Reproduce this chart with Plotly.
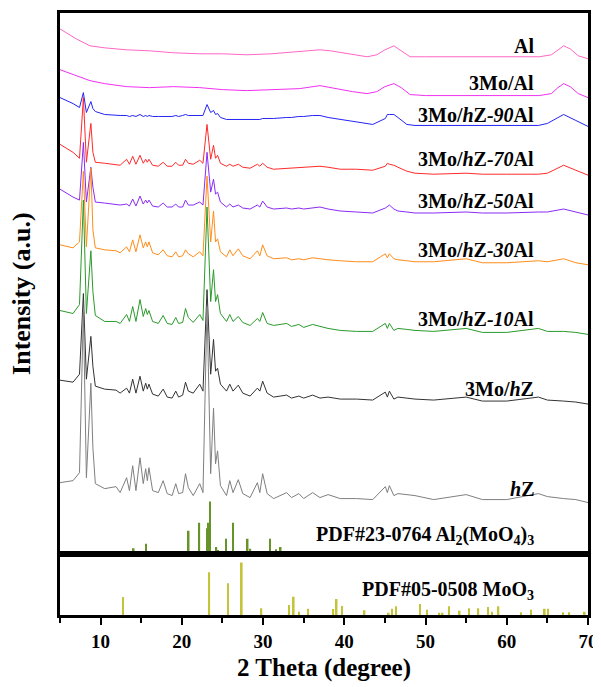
import plotly.graph_objects as go

# ---------------- data (2-theta in degrees, intensity in a.u.) ----------------
# knots of the zeolite-containing patterns
theta_z = [5.0, 6.6, 7.4, 7.88, 8.25, 8.8, 9.05, 9.35, 10.5, 11.9, 12.4, 13.2, 13.55, 13.95, 14.35,
           14.85, 15.25, 15.55, 15.75, 15.95, 16.4, 17.1, 17.7, 18.2, 18.8, 19.25, 19.6, 20.1, 20.45,
           20.8, 21.4, 22.2, 22.6, 23.1, 23.55, 23.9, 24.15, 24.4, 24.75, 25.5, 25.9, 26.3, 26.95,
           27.5, 28.4, 29.3, 29.6, 29.95, 30.5, 31.3, 32.9, 33.5, 34.4, 35.0, 36.1, 37.0, 38.0, 39.5,
           41.5, 43.5, 45.05, 45.3, 45.55, 46.1, 46.6, 47.7, 48.7, 51.0, 55.0, 57.0, 60.0, 63.9, 65.0,
           67.0, 68.5, 70.0]

hz = [72, 74, 82, 244, 77, 172, 107, 71, 66, 68, 62, 77, 64, 89, 64,
      97, 71, 86, 74, 87, 64, 62, 74, 61, 59, 71, 61, 62, 81,
      67, 59, 71, 62, 249, 81, 147, 91, 104, 69, 59, 74, 62, 75,
      61, 57, 72, 62, 81, 61, 56, 62, 57, 61, 56, 62, 57, 60, 56,
      56, 55, 68, 62, 69, 59, 61, 60, 59, 55, 60, 55, 55, 61, 58,
      56, 55, 52]

mo_hz = [175, 173, 181, 262, 176, 219, 189, 169, 166, 165, 162, 167, 162, 176, 162,
         179, 164, 172, 166, 171, 161, 159, 166, 158, 157, 164, 158, 160, 173,
         164, 162, 171, 164, 266, 181, 216, 184, 187, 171, 164, 171, 164, 170,
         162, 159, 167, 164, 174, 162, 158, 160, 157, 159, 157, 160, 157, 158, 156,
         156, 155, 163, 158, 164, 156, 158, 157, 156, 155, 158, 154, 154, 158, 155,
         154, 153, 151]

mo_hz_10al = [245, 242, 251, 356, 242, 305, 264, 240, 234, 234, 232, 241, 234, 249, 234,
              256, 239, 247, 241, 245, 234, 232, 240, 232, 231, 238, 232, 233, 247,
              238, 233, 241, 235, 349, 254, 286, 254, 261, 242, 234, 241, 234, 239,
              233, 230, 237, 234, 243, 232, 230, 232, 229, 231, 228, 231, 229, 227, 225,
              224, 224, 232, 227, 232, 225, 227, 226, 225, 224, 227, 223, 223, 227, 224,
              224, 223, 221]

mo_hz_30al = [311, 308, 314, 385, 309, 388, 326, 308, 306, 305, 303, 309, 304, 316, 304,
              321, 308, 314, 309, 314, 303, 301, 306, 300, 299, 304, 299, 300, 306,
              302, 299, 304, 300, 380, 314, 345, 314, 317, 304, 299, 306, 300, 307,
              300, 297, 305, 300, 311, 300, 297, 298, 296, 297, 296, 298, 297, 296, 295,
              294, 294, 302, 298, 302, 297, 296, 295, 294, 294, 297, 293, 293, 295, 294,
              297, 293, 291]

mo_hz_50al = [367, 359, 356, 414, 354, 389, 369, 354, 353, 352, 351, 352, 350, 357, 350,
              360, 352, 356, 353, 356, 350, 349, 353, 349, 349, 352, 349, 349, 356,
              351, 351, 354, 351, 404, 364, 377, 362, 364, 354, 349, 352, 349, 351,
              348, 347, 351, 349, 355, 349, 347, 348, 347, 348, 347, 348, 349, 347, 345,
              344, 343, 348, 350, 351, 347, 345, 344, 343, 343, 344, 343, 343, 344, 344,
              347, 344, 341]

mo_hz_70al = [412, 404, 398, 459, 394, 433, 404, 394, 393, 392, 391, 397, 392, 400, 392,
              401, 393, 397, 394, 397, 391, 390, 394, 390, 390, 394, 391, 391, 397,
              393, 392, 396, 393, 432, 397, 411, 398, 401, 393, 390, 392, 390, 392,
              389, 388, 392, 390, 393, 389, 387, 388, 388, 389, 389, 390, 390, 389, 387,
              387, 386, 390, 393, 392, 391, 389, 385, 383, 382, 383, 382, 382, 382, 383,
              391, 386, 381]

mo_hz_90al = [459, 453, 449, 464, 444, 455, 448, 445, 442, 441, 441, 441, 440, 441, 440,
              442, 440, 441, 440, 441, 440, 440, 440, 440, 440, 441, 440, 441, 442,
              441, 441, 441, 441, 452, 444, 446, 442, 443, 439, 437, 437, 437, 437,
              437, 437, 437, 437, 438, 438, 438, 439, 439, 440, 440, 441, 441, 439, 437,
              434, 432, 438, 442, 442, 442, 439, 432, 431, 431, 431, 431, 431, 431, 433,
              442, 436, 430]

# knots of the alumina patterns
theta_al = [5.0, 6.0, 7.0, 8.7, 10.5, 13.2, 16.0, 19.0, 22.2, 25.0, 28.0, 31.0, 34.5, 37.0, 38.3,
            39.7, 41.0, 42.8, 44.0, 45.0, 46.1, 47.0, 48.1, 50.0, 55.0, 60.0, 64.0, 65.5, 66.3,
            67.0, 67.8, 68.8, 70.0]
al = [528, 523, 518, 511, 509, 507, 506, 504, 503, 503, 502, 503, 505, 507, 506,
      504, 502, 500, 502, 507, 511, 506, 500, 500, 500, 500, 500, 502, 507,
      511, 508, 501, 498]
mo_al = [487, 484, 481, 476, 473, 470, 469, 470, 469, 467, 466, 467, 468, 471, 469,
         467, 465, 463, 465, 470, 473, 469, 462, 461, 461, 461, 461, 463, 469,
         473, 470, 463, 459]

# reference cards (stick positions / heights)
pdf_al2moo43_pos = [14.07, 15.59, 20.84, 22.15, 23.18, 23.30, 23.47, 24.25, 24.45, 25.44, 26.30,
                    28.10, 28.43, 29.00, 29.13, 30.85, 31.59, 32.17]
pdf_al2moo43_int = [6, 10.7, 23.7, 31.7, 26.3, 31.7, 53, 7.3, 4.3, 15.7, 31.7,
                    15.7, 5.7, 3, 3, 15.7, 5, 7.3]
pdf_moo3_pos = [12.78, 23.38, 25.70, 27.38, 29.80, 33.20, 33.78, 34.40, 35.56, 38.65, 39.06, 39.73,
                42.50, 45.47, 45.85, 46.38, 49.30, 50.17, 51.70, 52.10, 52.90, 54.20, 55.33, 56.50,
                57.70, 58.20, 58.98, 61.77, 63.00, 64.68, 65.10, 66.90, 67.70, 69.60]
pdf_moo3_int = [18, 43, 32, 52.7, 6.7, 10, 18.3, 3.3, 6.3, 6, 16, 9,
                4.7, 2.3, 6.3, 8.7, 11, 5.3, 2.3, 2.3, 8.7, 4.3, 6.7, 6.7,
                8, 3.3, 8.7, 2.7, 5.3, 6.3, 6.3, 2.7, 2.7, 3.3]

x_ticks = [10, 20, 30, 40, 50, 60, 70]

series = [
    ("Al", theta_al, al, "#FF66C4", "<b>Al</b>", 511),
    ("3Mo/Al", theta_al, mo_al, "#F030F0", "<b>3Mo/Al</b>", 474),
    ("3Mo/hZ-90Al", theta_z, mo_hz_90al, "#2424F5", "<b>3Mo/<i>h</i>Z<i>-90</i>Al</b>", 441),
    ("3Mo/hZ-70Al", theta_z, mo_hz_70al, "#FF2A2A", "<b>3Mo/<i>h</i>Z<i>-70</i>Al</b>", 397),
    ("3Mo/hZ-50Al", theta_z, mo_hz_50al, "#8A2BF5", "<b>3Mo/<i>h</i>Z<i>-50</i>Al</b>", 355),
    ("3Mo/hZ-30Al", theta_z, mo_hz_30al, "#FF8C1A", "<b>3Mo/<i>h</i>Z<i>-30</i>Al</b>", 306),
    ("3Mo/hZ-10Al", theta_z, mo_hz_10al, "#2A9A2A", "<b>3Mo/<i>h</i>Z<i>-10</i>Al</b>", 236),
    ("3Mo/hZ", theta_z, mo_hz, "#333333", "<b>3Mo/<i>h</i>Z</b>", 166),
    ("hZ", theta_z, hz, "#7F7F7F", "<b><i>h</i>Z</b>", 66),
]

FONT = "Liberation Serif, Times New Roman, serif"
fig = go.Figure()

for name, xs, ys, col, _, _ in series:
    fig.add_trace(go.Scatter(x=xs, y=ys, mode="lines", name=name,
                             line=dict(color=col, width=1), xaxis="x", yaxis="y"))

fig.add_trace(go.Bar(x=pdf_al2moo43_pos, y=pdf_al2moo43_int, width=0.2,
                     marker=dict(color="#679429", line=dict(width=0)), xaxis="x", yaxis="y"))
fig.add_trace(go.Bar(x=pdf_moo3_pos, y=pdf_moo3_int, width=0.2,
                     marker=dict(color="#C4C43A", line=dict(width=0)), xaxis="x2", yaxis="y2"))

annotations = []
for name, xs, ys, col, label, ypos in series:
    annotations.append(dict(x=63.6, y=ypos, xref="x", yref="y", text=label, showarrow=False,
                            xanchor="right", yanchor="middle",
                            font=dict(family=FONT, size=20, color="black")))
annotations.append(dict(x=63.6, y=19, xref="x", yref="y",
                        text="<b>PDF#23-0764 Al<sub>2</sub>(MoO<sub>4</sub>)<sub>3</sub></b>",
                        showarrow=False, xanchor="right", yanchor="middle",
                        font=dict(family=FONT, size=20, color="black")))
annotations.append(dict(x=63.6, y=25, xref="x2", yref="y2",
                        text="<b>PDF#05-0508 MoO<sub>3</sub></b>",
                        showarrow=False, xanchor="right", yanchor="middle",
                        font=dict(family=FONT, size=20, color="black")))
annotations.append(dict(x=-0.072, y=0.535, xref="paper", yref="paper",
                        text="<b>Intensity (a.u.)</b>", textangle=-90, showarrow=False,
                        xanchor="center", yanchor="middle",
                        font=dict(family=FONT, size=26, color="black")))
annotations.append(dict(x=0.5, y=-0.0876, xref="paper", yref="paper",
                        text="<b>2 Theta (degree)</b>", showarrow=False,
                        xanchor="center", yanchor="middle",
                        font=dict(family=FONT, size=25, color="black")))

split = 61 / 605
axis_common = dict(showline=True, mirror=True, linewidth=2.5, linecolor="black",
                   showgrid=False, zeroline=False)
# the page body adds an 8 px offset, so the figure is 8 px smaller and margins shifted
fig.update_layout(
    width=593, height=679,
    margin=dict(l=52, r=13, t=2, b=72),
    paper_bgcolor="white", plot_bgcolor="white",
    showlegend=False, barmode="overlay",
    font=dict(family=FONT, color="black"),
    xaxis=dict(domain=[0, 1], range=[5, 70], anchor="y", ticks="", showticklabels=False,
               **axis_common),
    yaxis=dict(domain=[split, 1], range=[0, 544], ticks="", showticklabels=False,
               anchor="x", **axis_common),
    xaxis2=dict(domain=[0, 1], range=[5, 70], anchor="y2", ticks="outside", ticklen=7,
                tickwidth=2, tickcolor="black", tickvals=x_ticks,
                ticktext=["<b>%d</b>" % v for v in x_ticks],
                tickfont=dict(family=FONT, size=19, color="black"),
                minor=dict(dtick=5, tick0=5, ticks="outside", ticklen=5, tickwidth=2,
                           tickcolor="black"),
                **axis_common),
    yaxis2=dict(domain=[0, split], range=[0, 61], ticks="", showticklabels=False,
                anchor="x2", **axis_common),
    annotations=annotations,
)

fig.write_html("out.html")
